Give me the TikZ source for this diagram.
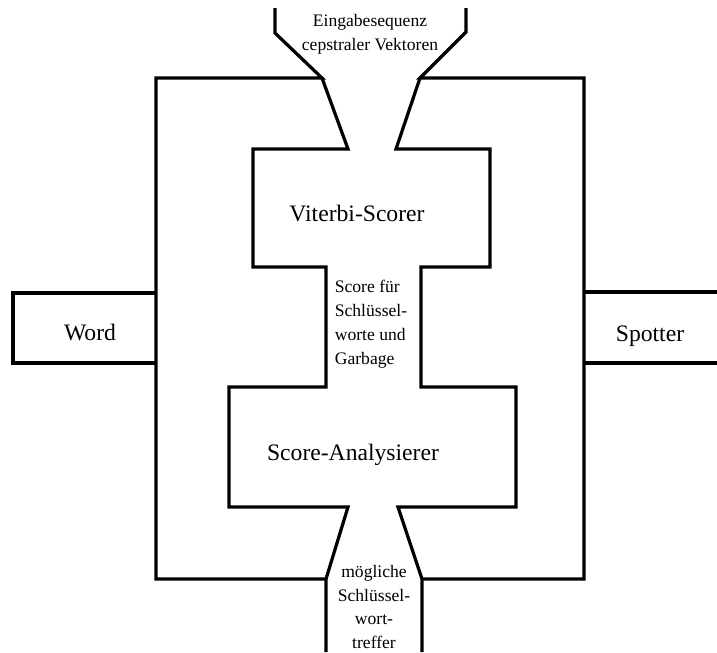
\documentclass[tikz,border=0pt]{standalone}
\usepackage{fontspec}
\setmainfont{Liberation Serif}

\begin{document}
\begin{tikzpicture}[
        x=0.025cm, y=-0.025cm,
        wall/.style={line width=2.3pt, line join=miter},
        bigtext/.style={font=\fontsize{16.8}{20}\selectfont, anchor=base},
        smalltext/.style={font=\fontsize{12.5}{17}\selectfont, align=center, inner sep=0pt},
    ]
    \useasboundingbox (0,0) rectangle (717,652);

    % left half of the outline
    \draw [wall] (275,8) -- (275,33) -- (322,78) -- (156,78) -- (156,579) -- (326,579) -- (326,652);
    \draw [wall] (156,293) -- (13,293) -- (13,363) -- (156,363);
    \draw [wall] (322,78) -- (348,149) -- (253,149) -- (253,267) -- (326,267) -- (326,387)
                 -- (229,387) -- (229,507) -- (348,507) -- (326,579);

    % right half of the outline
    \draw [wall] (466,8) -- (466,32) -- (420,78) -- (584,78) -- (584,579) -- (422,579) -- (422,652);
    \draw [wall] (720,292) -- (584,292);
    \draw [wall] (584,363) -- (720,363);
    \draw [wall] (420,78) -- (396,149) -- (490,149) -- (490,267) -- (421,267) -- (421,387)
                 -- (516,387) -- (516,507) -- (398,507) -- (422,579);

    \node (input)    [smalltext] at (370,34)  {Eingabesequenz\\cepstraler Vektoren};
    \node (viterbi)  [bigtext]   at (357,221) {Viterbi-Scorer};
    \node (scores)   [smalltext, align=left] at (371,324) {Score für\\Schlüssel-\\worte und\\Garbage};
    \node (analyser) [bigtext]   at (353,460) {Score-Analysierer};
    \node (hits)     [smalltext] at (374,607) {mögliche\\Schlüssel-\\wort-\\treffer};
    \node (word)     [bigtext]   at (90,340)  {Word};
    \node (spotter)  [bigtext]   at (650,341) {Spotter};

\end{tikzpicture}
\end{document}
